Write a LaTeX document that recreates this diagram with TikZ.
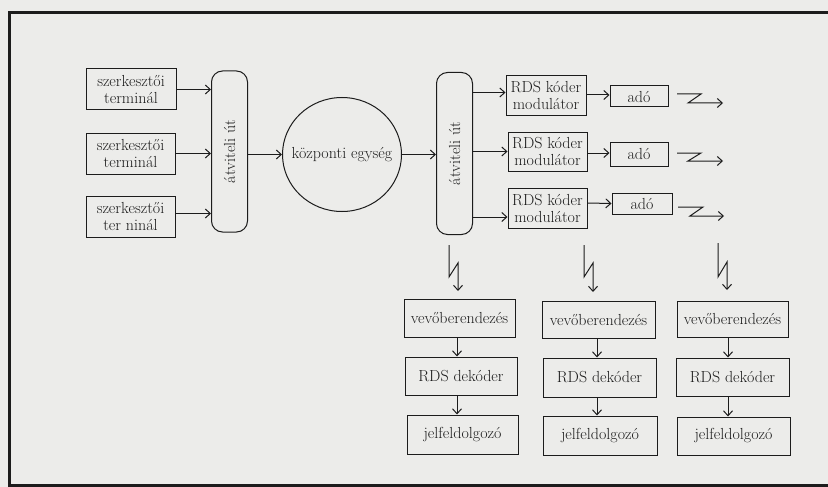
\documentclass[tikz,border=0pt]{standalone}
\usetikzlibrary{arrows.meta,shapes.geometric,calc}
\definecolor{bgc}{RGB}{236,236,234}
\definecolor{ink}{RGB}{28,28,28}
\begin{document}
\begin{tikzpicture}[x=1pt,y=-1pt,
  every node/.style={font=\fontsize{16}{17}\selectfont, text=ink, align=center, inner sep=0pt},
  box/.style={draw=ink, line width=1pt, rectangle},
  pathbox/.style={draw=ink, line width=1pt, rectangle, rounded corners=11pt, rotate=90, minimum height=36},
  arr/.style={draw=ink, line width=1pt, -{Straight Barb[length=5pt,width=9pt]}},
  bolt/.style={draw=ink, line width=1pt, line join=miter, -{Straight Barb[length=5pt,width=9pt]}}
]
\fill[bgc] (0,0) rectangle (828,487);
\useasboundingbox (0,0) rectangle (828,487);
% frame
\draw[ink, line width=3pt] (828,13) -- (9,13) -- (9,485.5) -- (828,485.5);

% terminals
\node[box, minimum width=90, minimum height=41] (t1) at (131,89.5) {szerkesztői\\terminál};
\node[box, minimum width=89, minimum height=41] (t2) at (130.5,153.5) {szerkesztői\\terminál};
\node[box, minimum width=89, minimum height=41] (t3) at (130.5,216.5) {szerkesztői\\ter ninál};

% transfer paths (rotated: north side faces left, south side faces right)
\node[pathbox, minimum width=161] (at1) at (229.5,151.5) {átviteli út};
\node[draw=ink, line width=1pt, ellipse, minimum width=119, minimum height=114] (c) at (342,154.5) {\makebox[0pt]{központi egység}};
\node[pathbox, minimum width=162] (at2) at (454.5,153.5) {átviteli út};

% RDS coders
\node[box, minimum width=80, minimum height=39] (r1) at (546,95.5) {RDS kóder\\modulátor};
\node[box, minimum width=79, minimum height=39] (r2) at (547.5,151.5) {RDS kóder\\modulátor};
\node[box, minimum width=79, minimum height=40] (r3) at (547.5,208) {RDS kóder\\modulátor};

% transmitters
\node[box, minimum width=58, minimum height=21] (a1) at (639,96.5) {adó};
\node[box, minimum width=58, minimum height=24] (a2) at (639,154) {adó};
\node[box, minimum width=60, minimum height=21] (a3) at (642,203.5) {adó};

% receivers
\node[box, minimum width=111, minimum height=38] (v1) at (459.5,318) {vevőberendezés};
\node[box, minimum width=112, minimum height=38] (d1) at (461,376) {RDS dekóder};
\node[box, minimum width=111, minimum height=39] (j1) at (462.5,434.5) {jelfeldolgozó};
\node[box, minimum width=113, minimum height=37] (v2) at (598.5,319.5) {vevőberendezés};
\node[box, minimum width=113, minimum height=39] (d2) at (599.5,377.5) {RDS dekóder};
\node[box, minimum width=114, minimum height=39] (j2) at (600,435.5) {jelfeldolgozó};
\node[box, minimum width=111, minimum height=36] (v3) at (732.5,319) {vevőberendezés};
\node[box, minimum width=113, minimum height=38] (d3) at (732.5,377) {RDS dekóder};
\node[box, minimum width=113, minimum height=38] (j3) at (733.5,436) {jelfeldolgozó};

% connectors left part
\draw[arr] (t1.east) -- (t1.east -| at1.north);
\draw[arr] (t2.east) -- (t2.east -| at1.north);
\draw[arr] ($(t3.east)+(0,-3)$) -- ($(t3.east -| at1.north)+(0,-3)$);
\draw[arr] (c.west -| at1.south) -- (c.west);
\draw[arr] (c.east) -- (c.east -| at2.north);
\draw[arr] ($(r1.west -| at2.south)+(0,-3)$) -- ($(r1.west)+(0,-3)$);
\draw[arr] (r2.west -| at2.south) -- (r2.west);
\draw[arr] ($(r3.west -| at2.south)+(0,9)$) -- ($(r3.west)+(0,9)$);
\draw[arr] ($(r1.east)+(0,-0.5)$) -- ($(a1.west)+(0,-1.5)$);
\draw[arr] ($(r2.east)+(0,1.5)$) -- ($(a2.west)+(0,-1)$);
\draw[arr] ($(r3.east)+(0,-5)$) -- (a3.west);

% radio bolts (horizontal)
\coordinate (h1s) at (677,94);  \coordinate (h1e) at (723,103);
\coordinate (h2s) at (677,153); \coordinate (h2e) at (723,161);
\coordinate (h3s) at (678,207); \coordinate (h3e) at (724,216);
\draw[bolt] (h1s) -- ++(24,0) -- (688,103) -- (h1e);
\draw[bolt] (h2s) -- ++(24,0) -- (688,161) -- (h2e);
\draw[bolt] (h3s) -- ++(25,0) -- (690,216) -- (h3e);

% radio bolts (vertical)
\coordinate (b1s) at (449,245); \coordinate (b1e) at (458,291);
\coordinate (b2s) at (584,245); \coordinate (b2e) at (593,292);
\coordinate (b3s) at (718,243); \coordinate (b3e) at (727,290);
\draw[bolt] (b1s) -- (449,277) -- (458,263) -- (b1e);
\draw[bolt] (b2s) -- (584,277) -- (593,263) -- (b2e);
\draw[bolt] (b3s) -- (718,277) -- (727,262) -- (b3e);

% receiver chains
\draw[arr] (v1.south -| 457,0) -- (d1.north -| 457,0);
\draw[arr] (d1.south -| 457,0) -- (j1.north -| 457,0);
\draw[arr] (v2.south -| 597,0) -- (d2.north -| 597,0);
\draw[arr] (d2.south -| 597,0) -- (j2.north -| 597,0);
\draw[arr] (v3.south -| 728,0) -- (d3.north -| 728,0);
\draw[arr] (d3.south -| 728,0) -- (j3.north -| 728,0);
\end{tikzpicture}
\end{document}
